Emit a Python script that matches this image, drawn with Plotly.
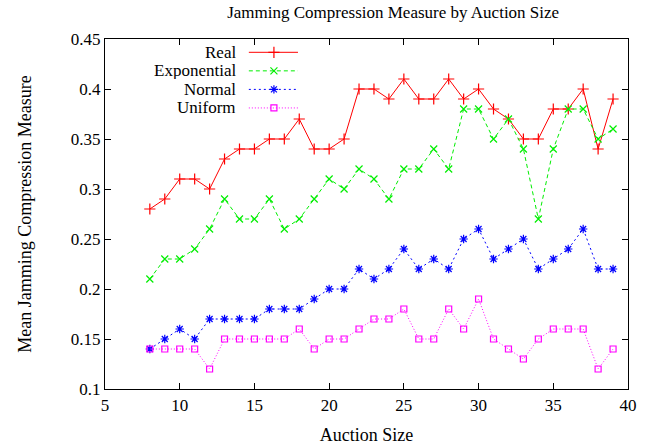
import plotly.graph_objects as go

# Auction sizes and mean jamming compression per distribution
auction_size = list(range(8, 40))
real = [0.28, 0.29, 0.31, 0.31, 0.30, 0.33, 0.34, 0.34, 0.35, 0.35, 0.37, 0.34, 0.34, 0.35, 0.40, 0.40,
        0.39, 0.41, 0.39, 0.39, 0.41, 0.39, 0.40, 0.38, 0.37, 0.35, 0.35, 0.38, 0.38, 0.40, 0.34, 0.39]
exponential = [0.21, 0.23, 0.23, 0.24, 0.26, 0.29, 0.27, 0.27, 0.29, 0.26, 0.27, 0.29, 0.31, 0.30, 0.32, 0.31,
               0.29, 0.32, 0.32, 0.34, 0.32, 0.38, 0.38, 0.35, 0.37, 0.34, 0.27, 0.34, 0.38, 0.38, 0.35, 0.36]
normal = [0.14, 0.15, 0.16, 0.15, 0.17, 0.17, 0.17, 0.17, 0.18, 0.18, 0.18, 0.19, 0.20, 0.20, 0.22, 0.21,
          0.22, 0.24, 0.22, 0.23, 0.22, 0.25, 0.26, 0.23, 0.24, 0.25, 0.22, 0.23, 0.24, 0.26, 0.22, 0.22]
uniform = [0.14, 0.14, 0.14, 0.14, 0.12, 0.15, 0.15, 0.15, 0.15, 0.15, 0.16, 0.14, 0.15, 0.15, 0.16, 0.17,
           0.17, 0.18, 0.15, 0.15, 0.18, 0.16, 0.19, 0.15, 0.14, 0.13, 0.15, 0.16, 0.16, 0.16, 0.12, 0.14]

x_ticks = [5, 10, 15, 20, 25, 30, 35, 40]
y_ticks = [0.1, 0.15, 0.2, 0.25, 0.3, 0.35, 0.4, 0.45]
y_tick_text = ["0.1", "0.15", "0.2", "0.25", "0.3", "0.35", "0.4", "0.45"]

series = [
    ("Real", real, "#ff0000", "solid", "cross-thin", 1.0, 8),
    ("Exponential", exponential, "#00ee00", "4px,3px", "x-thin", 1.0, 7),
    ("Normal", normal, "#0000ff", "2px,3px", "asterisk-open", 1.0, 7),
    ("Uniform", uniform, "#ff00ff", "1px,2px", "square-open", 1.0, 6),
]

FONT = "Liberation Serif, Times New Roman, serif"

fig = go.Figure()
legend_rows = [0.962, 0.909, 0.856, 0.803]
for (name, vals, color, dash, symbol, lw, ms), row in zip(series, legend_rows):
    fig.add_trace(go.Scatter(
        x=auction_size, y=vals, mode="lines+markers", name=name,
        line=dict(color=color, width=lw, dash=dash),
        marker=dict(symbol=symbol, size=ms, color=color, line=dict(color=color, width=1.2)),
        showlegend=False,
    ))
    # key sample drawn on an overlay axis spanning the plot area
    fig.add_trace(go.Scatter(
        x=[0.275, 0.369], y=[row, row], xaxis="x2", yaxis="y2", mode="lines",
        line=dict(color=color, width=lw, dash=dash), showlegend=False, hoverinfo="skip",
    ))
    fig.add_trace(go.Scatter(
        x=[0.323], y=[row], xaxis="x2", yaxis="y2", mode="markers",
        marker=dict(symbol=symbol, size=ms, color=color, line=dict(color=color, width=1.2)),
        showlegend=False, hoverinfo="skip",
    ))
    fig.add_annotation(x=0.254, y=row, xref="x2", yref="y2", text=name, showarrow=False,
                       xanchor="right", yanchor="middle", height=17, valign="middle",
                       font=dict(family=FONT, size=17, color="black"))

axis_common = dict(
    showgrid=False, zeroline=False, showline=True, linecolor="black", linewidth=1.2,
    mirror="allticks", ticks="inside", ticklen=6, tickcolor="black", automargin=False,
    tickfont=dict(family=FONT, size=17, color="black"),
)

fig.update_layout(
    width=665, height=447,
    margin=dict(l=105, r=37, t=39, b=58),
    paper_bgcolor="white", plot_bgcolor="white",
    title=dict(text="Jamming Compression Measure by Auction Size", x=0.551, xanchor="center",
               y=0.972, yanchor="middle", xref="paper",
               font=dict(family=FONT, size=17, color="black")),
    xaxis=dict(range=[5, 40], tickvals=x_ticks,
               title=dict(text="Auction Size", font=dict(family=FONT, size=18, color="black"), standoff=14),
               **axis_common),
    yaxis=dict(range=[0.1, 0.45], tickvals=y_ticks, ticktext=y_tick_text,
               title=dict(text="Mean Jamming Compression Measure", font=dict(family=FONT, size=18, color="black"), standoff=34),
               **axis_common),
    xaxis2=dict(range=[0, 1], overlaying="x", visible=False),
    yaxis2=dict(range=[0, 1], overlaying="y", visible=False),
)

fig.write_html("out.html")
